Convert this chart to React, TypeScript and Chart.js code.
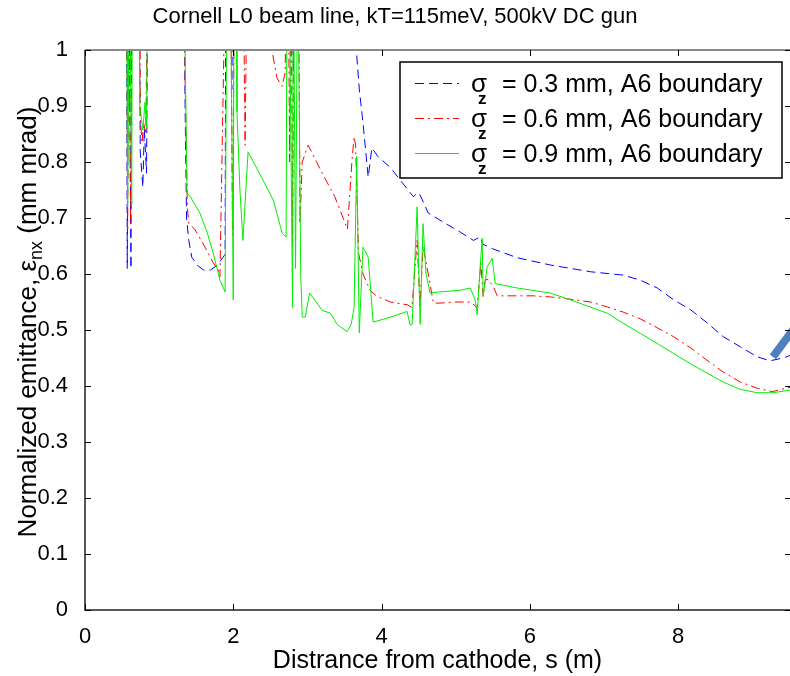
import React, { useEffect, useRef } from 'react';
import { Chart, registerables } from 'chart.js';

Chart.register(...registerables);

// ---- text ----
const TITLE = 'Cornell L0 beam line, kT=115meV, 500kV DC gun';
const X_LABEL = 'Distrance from cathode, s (m)';
const Y_LABEL_MAIN = 'Normalized emittance, ε';
const Y_LABEL_SUB = 'nx';
const Y_LABEL_TAIL = ' (mm mrad)';
const LEGEND_SYMBOL = 'σ';
const LEGEND_SUB = 'z';
const LEGEND_TEXT = [' = 0.3 mm, A6 boundary', ' = 0.6 mm, A6 boundary', ' = 0.9 mm, A6 boundary'];

// ---- axes ----
const X_MIN = 0;
const X_MAX = 9.51;
const X_STEP = 2;
const Y_MIN = 0;
const Y_MAX = 1;
const Y_STEP = 0.1;

// ---- series: sigma_z = 0.3 mm (blue dashed) ----
const blueX = [0.56, 0.57, 0.59, 0.62, 0.63, 0.73, 0.745, 0.78, 0.80, 0.83, 0.85, 1.33, 1.35, 1.37, 1.40, 1.44, 1.52, 1.60, 1.69, 1.78, 1.89, 1.90, 1.96, 1.98, 2.00, 2.79, 2.81, 2.83, 3.60, 3.66, 3.70, 3.75, 3.82, 3.87, 3.95, 4.12, 4.25, 4.43, 4.48, 4.52, 4.63, 4.79, 5.06, 5.24, 5.33, 5.37, 5.50, 5.83, 6.28, 6.55, 6.82, 7.26, 7.49, 7.72, 7.94, 8.17, 8.39, 8.61, 8.84, 9.07, 9.24, 9.42, 9.52];
const blueY = [1.2, 0.61, 1.2, 0.61, 1.2, 1.2, 0.82, 0.755, 0.86, 0.78, 1.2, 1.2, 0.90, 0.70, 0.66, 0.63, 0.615, 0.607, 0.607, 0.615, 0.635, 1.2, 1.2, 0.93, 1.2, 1.2, 0.96, 1.2, 1.2, 1.0, 0.93, 0.87, 0.773, 0.825, 0.81, 0.79, 0.768, 0.738, 0.745, 0.741, 0.709, 0.696, 0.675, 0.66, 0.666, 0.653, 0.645, 0.629, 0.616, 0.61, 0.604, 0.598, 0.589, 0.575, 0.554, 0.536, 0.513, 0.488, 0.47, 0.452, 0.445, 0.45, 0.455];

// ---- series: sigma_z = 0.6 mm (red dash-dot) ----
const redX = [0.56, 0.575, 0.59, 0.615, 0.63, 0.73, 0.75, 0.77, 0.79, 0.82, 0.85, 1.33, 1.35, 1.38, 1.40, 1.48, 1.59, 1.73, 1.80, 1.82, 1.90, 1.96, 1.99, 2.02, 2.13, 2.16, 2.19, 2.50, 2.52, 2.59, 2.66, 2.70, 2.72, 2.74, 2.76, 2.78, 2.80, 2.82, 2.88, 2.90, 2.93, 3.01, 3.20, 3.37, 3.54, 3.60, 3.63, 3.65, 3.69, 3.75, 3.85, 3.94, 4.12, 4.35, 4.41, 4.48, 4.52, 4.56, 4.63, 4.70, 4.79, 5.00, 5.20, 5.29, 5.34, 5.37, 5.40, 5.44, 5.51, 5.56, 6.05, 6.28, 6.55, 6.82, 7.05, 7.26, 7.49, 7.72, 7.94, 8.17, 8.39, 8.61, 8.84, 9.07, 9.27, 9.52];
const redY = [1.2, 0.68, 1.2, 0.69, 1.2, 1.2, 0.87, 0.834, 0.87, 0.85, 1.2, 1.2, 0.95, 0.72, 0.69, 0.68, 0.655, 0.62, 0.607, 0.595, 1.2, 1.2, 0.67, 1.2, 1.2, 0.83, 1.2, 1.2, 1.0, 0.95, 0.935, 0.96, 1.2, 1.2, 0.80, 1.2, 0.65, 1.2, 1.2, 0.69, 0.80, 0.83, 0.78, 0.738, 0.68, 0.80, 0.845, 0.83, 0.637, 0.60, 0.57, 0.56, 0.55, 0.545, 0.54, 0.66, 0.54, 0.65, 0.60, 0.548, 0.548, 0.55, 0.55, 0.54, 0.62, 0.56, 0.59, 0.59, 0.577, 0.561, 0.561, 0.559, 0.555, 0.55, 0.541, 0.532, 0.52, 0.504, 0.488, 0.468, 0.446, 0.425, 0.407, 0.396, 0.39, 0.398];

// ---- series: sigma_z = 0.9 mm (green solid) ----
const greenX = [0.56, 0.575, 0.60, 0.63, 0.64, 0.72, 0.74, 0.78, 0.81, 0.83, 0.85, 1.33, 1.35, 1.376, 1.42, 1.55, 1.65, 1.73, 1.82, 1.89, 1.916, 1.96, 2.00, 2.01, 2.04, 2.05, 2.09, 2.13, 2.20, 2.40, 2.54, 2.66, 2.713, 2.726, 2.75, 2.80, 2.81, 2.84, 2.87, 2.91, 2.93, 2.97, 3.03, 3.20, 3.31, 3.40, 3.536, 3.59, 3.63, 3.665, 3.70, 3.75, 3.82, 3.887, 4.12, 4.345, 4.386, 4.413, 4.48, 4.521, 4.56, 4.60, 4.656, 4.79, 5.06, 5.196, 5.263, 5.29, 5.331, 5.358, 5.371, 5.425, 5.493, 5.533, 5.83, 6.275, 6.545, 6.815, 7.045, 7.26, 7.49, 7.72, 7.94, 8.165, 8.39, 8.61, 8.84, 9.07, 9.285, 9.52];
const greenY = [1.2, 0.72, 1.2, 0.725, 1.2, 1.2, 0.90, 0.857, 0.907, 0.86, 1.2, 1.2, 1.0, 0.745, 0.738, 0.709, 0.673, 0.637, 0.589, 0.568, 1.2, 1.2, 0.554, 1.2, 1.2, 0.89, 0.75, 0.66, 0.818, 0.768, 0.732, 0.673, 0.666, 1.2, 1.2, 0.54, 1.2, 0.61, 1.2, 0.60, 0.523, 0.523, 0.566, 0.535, 0.53, 0.51, 0.497, 0.51, 0.54, 0.81, 0.495, 0.648, 0.63, 0.514, 0.523, 0.533, 0.509, 0.51, 0.72, 0.51, 0.69, 0.60, 0.566, 0.568, 0.571, 0.575, 0.554, 0.527, 0.613, 0.664, 0.56, 0.613, 0.628, 0.583, 0.575, 0.566, 0.554, 0.541, 0.53, 0.512, 0.494, 0.476, 0.458, 0.44, 0.423, 0.407, 0.394, 0.388, 0.388, 0.393];

// ---- thick marker stroke at right edge ----
const markX = [9.28, 9.56];
const markY = [0.452, 0.502];

const FONT = '"Liberation Sans", Arial, Helvetica, sans-serif';

const toPts = (xs: number[], ys: number[]) => xs.map((x, i) => ({ x, y: ys[i] }));

const decorPlugin = {
  id: 'decor',
  afterDraw(chart: any) {
    const ctx: CanvasRenderingContext2D = chart.ctx;
    const { left, right, top, bottom } = chart.chartArea;
    const xs = chart.scales.x;
    const ys = chart.scales.y;
    ctx.save();
    ctx.setLineDash([]);
    // frame
    ctx.strokeStyle = '#8a8a8a';
    ctx.lineWidth = 2;
    ctx.beginPath();
    ctx.moveTo(left, top);
    ctx.lineTo(right, top);
    ctx.stroke();
    ctx.strokeStyle = '#202020';
    ctx.lineWidth = 1.5;
    ctx.beginPath();
    ctx.moveTo(left, top);
    ctx.lineTo(left, bottom);
    ctx.lineTo(right, bottom);
    ctx.stroke();
    // ticks (inward)
    ctx.strokeStyle = '#000';
    ctx.lineWidth = 1;
    xs.ticks.forEach((t: any) => {
      const px = Math.round(xs.getPixelForValue(t.value)) + 0.5;
      ctx.beginPath();
      ctx.moveTo(px, bottom);
      ctx.lineTo(px, bottom - 6);
      ctx.moveTo(px, top);
      ctx.lineTo(px, top + 6);
      ctx.stroke();
    });
    ys.ticks.forEach((t: any) => {
      const py = Math.round(ys.getPixelForValue(t.value)) + 0.5;
      ctx.beginPath();
      ctx.moveTo(left, py);
      ctx.lineTo(left + 6, py);
      ctx.moveTo(right - 5, py);
      ctx.lineTo(right, py);
      ctx.stroke();
    });

    // x axis title
    ctx.fillStyle = '#000';
    ctx.font = `25px ${FONT}`;
    ctx.textAlign = 'center';
    ctx.textBaseline = 'alphabetic';
    ctx.fillText(X_LABEL, (left + right) / 2, 668);

    // y axis title (rotated, with subscript)
    ctx.save();
    ctx.translate(26, 322);
    ctx.rotate(-Math.PI / 2);
    ctx.textAlign = 'left';
    const mainFont = `26px ${FONT}`;
    const subFont = `18px ${FONT}`;
    ctx.font = mainFont;
    const w1 = ctx.measureText(Y_LABEL_MAIN).width;
    const w3 = ctx.measureText(Y_LABEL_TAIL).width;
    ctx.font = subFont;
    const w2 = ctx.measureText(Y_LABEL_SUB).width;
    let sx = -(w1 + w2 + w3) / 2;
    ctx.font = mainFont;
    ctx.fillText(Y_LABEL_MAIN, sx, 10);
    sx += w1;
    ctx.font = subFont;
    ctx.fillText(Y_LABEL_SUB, sx, 16);
    sx += w2;
    ctx.font = mainFont;
    ctx.fillText(Y_LABEL_TAIL, sx, 10);
    ctx.restore();

    // legend
    const bx = 400, by = 62, bw = 382, bh = 116;
    ctx.fillStyle = '#fff';
    ctx.fillRect(bx, by, bw, bh);
    ctx.strokeStyle = '#000';
    ctx.lineWidth = 1.5;
    ctx.strokeRect(bx, by, bw, bh);
    for (let i = 0; i < LEGEND_TEXT.length; i++) {
      const ds = chart.data.datasets[i];
      const ry = by + 21 + i * 35;
      ctx.save();
      ctx.strokeStyle = ds.borderColor;
      ctx.lineWidth = 1;
      ctx.setLineDash(ds.borderDash || []);
      ctx.beginPath();
      ctx.moveTo(415, ry + 0.5);
      ctx.lineTo(459, ry + 0.5);
      ctx.stroke();
      ctx.restore();
      ctx.fillStyle = '#000';
      ctx.textAlign = 'left';
      ctx.textBaseline = 'alphabetic';
      ctx.font = `26px ${FONT}`;
      ctx.fillText(LEGEND_SYMBOL, 471, ry + 9);
      ctx.font = `bold 17px ${FONT}`;
      ctx.fillText(LEGEND_SUB, 478, ry + 21);
      ctx.font = `25px ${FONT}`;
      ctx.fillText(LEGEND_TEXT[i], 495, ry + 9);
    }
    ctx.restore();
  },
};

export default function App() {
  const ref = useRef<HTMLCanvasElement>(null);

  useEffect(() => {
    if (!ref.current) return;
    Chart.defaults.font.family = FONT;
    Chart.defaults.color = '#000';
    const chart = new Chart(ref.current, {
      type: 'line',
      data: {
        datasets: [
          {
            label: 'σz = 0.3 mm, A6 boundary',
            data: toPts(blueX, blueY),
            borderColor: '#0000ff',
            borderWidth: 1,
            borderDash: [9, 5],
            pointRadius: 0,
            tension: 0,
            order: 3,
          },
          {
            label: 'σz = 0.6 mm, A6 boundary',
            data: toPts(redX, redY),
            borderColor: '#ff0000',
            borderWidth: 1,
            borderDash: [9, 4, 2, 4],
            pointRadius: 0,
            tension: 0,
            order: 2,
          },
          {
            label: 'σz = 0.9 mm, A6 boundary',
            data: toPts(greenX, greenY),
            borderColor: '#00ee00',
            borderWidth: 1,
            pointRadius: 0,
            tension: 0,
            order: 1,
          },
          {
            label: '',
            data: toPts(markX, markY),
            borderColor: '#4f7fbd',
            borderWidth: 8,
            borderCapStyle: 'butt',
            pointRadius: 0,
            order: 0,
          },
        ],
      },
      options: {
        responsive: false,
        maintainAspectRatio: false,
        devicePixelRatio: 1,
        animation: false,
        layout: { padding: 0 },
        plugins: {
          legend: { display: false },
          tooltip: { enabled: false },
          title: {
            display: true,
            text: TITLE,
            color: '#000',
            font: { size: 22, weight: 'normal', family: FONT },
            padding: { top: 4, bottom: 19.6 },
          },
        },
        scales: {
          x: {
            type: 'linear',
            min: X_MIN,
            max: X_MAX,
            grid: { display: false },
            border: { display: false },
            ticks: {
              stepSize: X_STEP,
              includeBounds: false,
              padding: 6,
              maxRotation: 0,
              color: '#000',
              font: { size: 22, family: FONT },
            },
            afterFit: (s: any) => {
              s.height = 66;
            },
          },
          y: {
            type: 'linear',
            min: Y_MIN,
            max: Y_MAX,
            grid: { display: false },
            border: { display: false },
            ticks: {
              stepSize: Y_STEP,
              padding: 9,
              color: '#000',
              font: { size: 22, family: FONT },
              callback: (v: any) => String(Number(Number(v).toFixed(1))),
            },
            afterFit: (s: any) => {
              s.width = 85;
            },
          },
        },
      },
      plugins: [decorPlugin],
    } as any);
    return () => chart.destroy();
  }, []);

  return (
    <div
      style={{
        position: 'fixed',
        left: 0,
        top: 0,
        width: 790,
        height: 676,
        overflow: 'hidden',
        background: '#fff',
      }}
    >
      <canvas ref={ref} width={790} height={676} style={{ display: 'block', width: 790, height: 676 }} />
    </div>
  );
}
